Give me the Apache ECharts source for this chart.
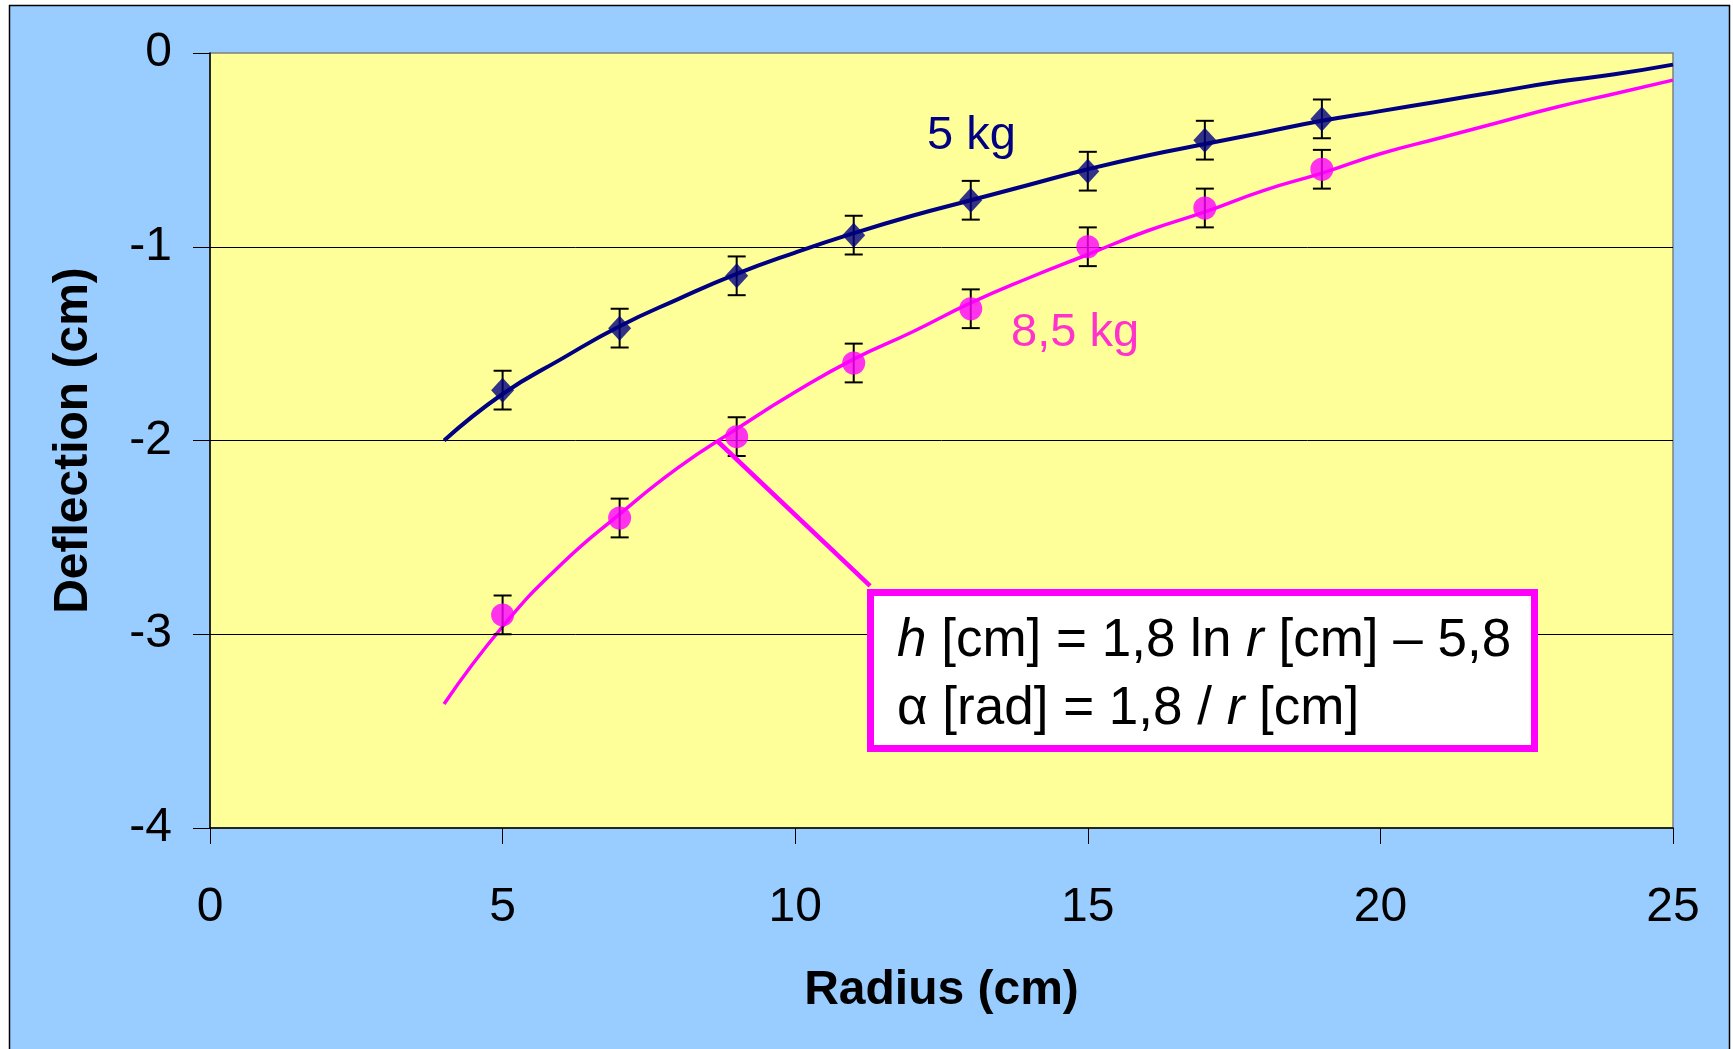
<!DOCTYPE html>
<html>
<head>
<meta charset="utf-8">
<script src="https://cdn.jsdelivr.net/npm/echarts@6/dist/echarts.min.js"></script>
<style>
html,body{margin:0;padding:0;background:#ffffff;}
#chart{width:1733px;height:1049px;}
</style>
</head>
<body>
<div id="chart"></div>
<script>
// ---- data ----
var radiusPoints = [5, 7, 9, 11, 13, 15, 17, 19];
var points5kg   = [-1.74, -1.42, -1.15, -0.94, -0.76, -0.61, -0.45, -0.34];
var points85kg  = [-2.90, -2.40, -1.98, -1.60, -1.32, -1.00, -0.80, -0.60];
var errorBar    = [0.10, 0.10, 0.10, 0.10, 0.10, 0.10, 0.10, 0.10];

var radiusCurve = [4, 5, 6, 7, 8, 9, 10, 11, 12, 13, 14, 15, 16, 17, 18, 19, 20, 21, 22, 23, 24, 25];
var curve5kg  = [-2.00, -1.76, -1.58, -1.41, -1.27, -1.14, -1.03, -0.93, -0.84, -0.76, -0.68, -0.60, -0.53, -0.47, -0.41, -0.35, -0.30, -0.25, -0.20, -0.15, -0.11, -0.06];
var curve85kg = [-3.36, -2.96, -2.64, -2.38, -2.14, -1.94, -1.75, -1.58, -1.44, -1.29, -1.16, -1.04, -0.92, -0.82, -0.71, -0.62, -0.52, -0.44, -0.36, -0.28, -0.21, -0.14];

var xTicks = {min: 0, max: 25, interval: 5};
var yTicks = {min: -4, max: 0, interval: 1};

var leaderLine = [[8.66, -2.0], [11.28, -2.75]];

var labelText5 = '5 kg';
var labelText85 = '8,5 kg';
var formulaLine1 = '{i|h} [cm] = 1,8 ln {i|r} [cm] \u2013 5,8';
var formulaLine2 = '\u03b1 [rad] = 1,8 / {i|r} [cm]';

// ---- build ----
function zip(xs, ys) { return xs.map(function (x, i) { return [x, ys[i]]; }); }
function errData(xs, ys, es) { return xs.map(function (x, i) { return [x, ys[i], es[i]]; }); }

var FONT = 'Liberation Sans, Arial, sans-serif';
var NAVY = '#000080';
var MAG = '#FF00FF';

function renderErr(params, api) {
  var x = api.value(0), y = api.value(1), e = api.value(2);
  var top = api.coord([x, y + e]);
  var bot = api.coord([x, y - e]);
  var hw = 9;
  var st = {stroke: '#000000', lineWidth: 2};
  return {
    type: 'group',
    children: [
      {type: 'line', shape: {x1: top[0], y1: top[1], x2: bot[0], y2: bot[1]}, style: st},
      {type: 'line', shape: {x1: top[0] - hw, y1: top[1], x2: top[0] + hw, y2: top[1]}, style: st},
      {type: 'line', shape: {x1: bot[0] - hw, y1: bot[1], x2: bot[0] + hw, y2: bot[1]}, style: st}
    ]
  };
}

var chart = echarts.init(document.getElementById('chart'), null, {renderer: 'canvas'});

var option = {
  animation: false,
  backgroundColor: '#ffffff',
  grid: {
    left: 210, top: 53, width: 1463, height: 775,
    show: true, backgroundColor: '#FFFF99', borderColor: '#808080', borderWidth: 1.5,
    containLabel: false, outerBoundsMode: 'none'
  },
  xAxis: {
    type: 'value', min: xTicks.min, max: xTicks.max, interval: xTicks.interval,
    name: 'Radius (cm)', nameLocation: 'middle', nameGap: 139,
    nameTextStyle: {fontFamily: FONT, fontSize: 48, fontWeight: 'bold', color: '#000'},
    axisLine: {show: true, onZero: false, lineStyle: {color: '#000', width: 1.5}},
    axisTick: {show: true, inside: false, length: 16, lineStyle: {color: '#000', width: 1}},
    axisLabel: {fontFamily: FONT, fontSize: 48, color: '#000', margin: 56},
    splitLine: {show: false}
  },
  yAxis: {
    type: 'value', min: yTicks.min, max: yTicks.max, interval: yTicks.interval,
    name: 'Deflection (cm)', nameLocation: 'middle', nameGap: 112, nameRotate: 90,
    nameTextStyle: {fontFamily: FONT, fontSize: 48, fontWeight: 'bold', color: '#000'},
    axisLine: {show: true, onZero: false, lineStyle: {color: '#000', width: 1.5}},
    axisTick: {show: true, inside: false, length: 17, lineStyle: {color: '#000', width: 1}},
    axisLabel: {fontFamily: FONT, fontSize: 48, color: '#000', margin: 38},
    splitLine: {show: true, showMinLine: false, showMaxLine: false, lineStyle: {color: '#000', width: 1}}
  },
  series: [
    {
      name: '5 kg trend', type: 'line', data: zip(radiusCurve, curve5kg), smooth: true,
      showSymbol: false, symbol: 'none', lineStyle: {color: NAVY, width: 4}, z: 2, silent: true
    },
    {
      name: '8,5 kg trend', type: 'line', data: zip(radiusCurve, curve85kg), smooth: true,
      showSymbol: false, symbol: 'none', lineStyle: {color: MAG, width: 3.5}, z: 2, silent: true,
      markLine: {
        silent: true, symbol: 'none', label: {show: false},
        lineStyle: {color: MAG, width: 4.5, type: 'solid'},
        data: [[{coord: leaderLine[0]}, {coord: leaderLine[1]}]]
      }
    },
    {
      name: 'err5', type: 'custom', renderItem: renderErr, data: errData(radiusPoints, points5kg, errorBar), z: 3, silent: true
    },
    {
      name: 'err85', type: 'custom', renderItem: renderErr, data: errData(radiusPoints, points85kg, errorBar), z: 3, silent: true
    },
    {
      name: '5 kg', type: 'scatter', data: zip(radiusPoints, points5kg), symbol: 'diamond', symbolSize: [23, 25],
      itemStyle: {color: NAVY}, z: 4
    },
    {
      name: '8,5 kg', type: 'scatter', data: zip(radiusPoints, points85kg), symbol: 'circle', symbolSize: 23,
      itemStyle: {color: MAG}, z: 4
    }
  ],
  graphic: [
    {
      type: 'rect', z: -10, silent: true,
      shape: {x: 9.5, y: 5.5, width: 1720, height: 1080},
      style: {fill: '#99CCFF', stroke: '#000000', lineWidth: 1.5}
    },
    {
      type: 'text', z: 100, silent: true, x: 927, y: 136,
      style: {text: labelText5, fontFamily: FONT, fontSize: 47, fill: NAVY, verticalAlign: 'middle', align: 'left'}
    },
    {
      type: 'text', z: 100, silent: true, x: 1011, y: 333,
      style: {text: labelText85, fontFamily: FONT, fontSize: 47, fill: '#FF33CC', verticalAlign: 'middle', align: 'left'}
    },
    {
      type: 'rect', z: 100, silent: true,
      shape: {x: 870.5, y: 592.5, width: 664, height: 156},
      style: {fill: '#ffffff', stroke: MAG, lineWidth: 7}
    },
    {
      type: 'text', z: 101, silent: true, x: 897, y: 641,
      style: {
        text: formulaLine1, fontFamily: FONT, fontSize: 53, fill: '#000', verticalAlign: 'middle', align: 'left',
        rich: {i: {fontFamily: FONT, fontSize: 53, fontStyle: 'italic', fill: '#000'}}
      }
    },
    {
      type: 'text', z: 101, silent: true, x: 897, y: 709,
      style: {
        text: formulaLine2, fontFamily: FONT, fontSize: 53, fill: '#000', verticalAlign: 'middle', align: 'left',
        rich: {i: {fontFamily: FONT, fontSize: 53, fontStyle: 'italic', fill: '#000'}}
      }
    }
  ]
};
chart.setOption(option);
</script>
</body>
</html>
